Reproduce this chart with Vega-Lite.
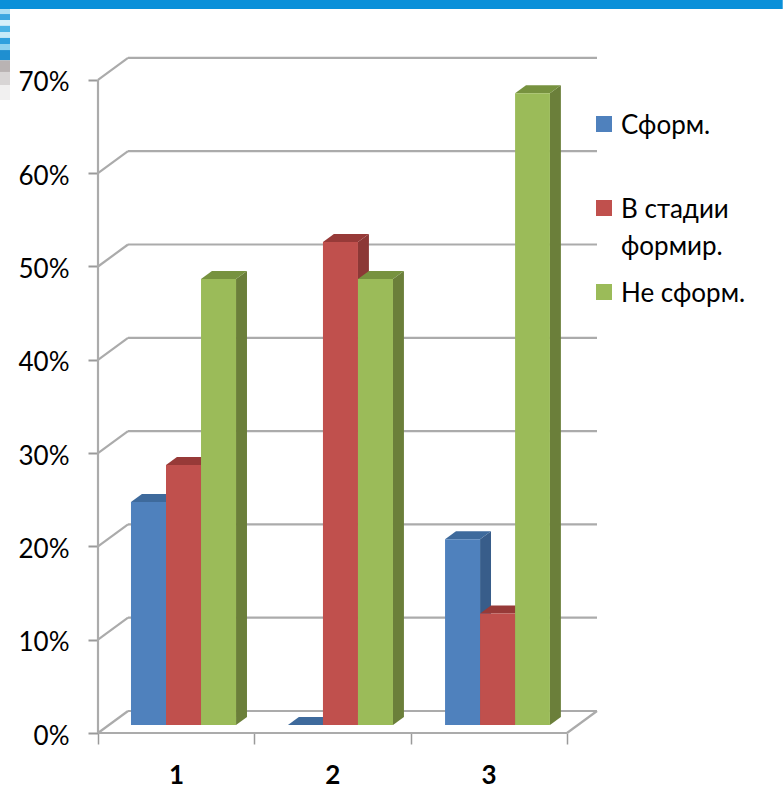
{"$schema":"https://vega.github.io/schema/vega-lite/v6.json","width":499,"height":674,"autosize":"none","padding":{"left":98,"top":59,"right":186,"bottom":55},"background":"white","config":{"view":{"stroke":null},"font":"Lato"},
"datasets":{
"backdrop":[{"part":"band","x":-0.627,"x2":4.38,"y":77.6,"y2":78.56},
{"part":"s1","x":-0.627,"x2":-0.563,"y":77.06,"y2":77.6},{"part":"s2","x":-0.627,"x2":-0.563,"y":76.4,"y2":77.06},{"part":"s3","x":-0.627,"x2":-0.563,"y":75.8,"y2":76.4},{"part":"s4","x":-0.627,"x2":-0.563,"y":75.1,"y2":75.8},{"part":"s5","x":-0.627,"x2":-0.563,"y":74.5,"y2":75.1},{"part":"s6","x":-0.627,"x2":-0.563,"y":73.85,"y2":74.5},{"part":"s7","x":-0.627,"x2":-0.563,"y":73.2,"y2":73.85},{"part":"s8","x":-0.627,"x2":-0.563,"y":72.1,"y2":73.2},{"part":"f1","x":-0.627,"x2":-0.563,"y":70.85,"y2":72.1},{"part":"f2","x":-0.627,"x2":-0.563,"y":69.45,"y2":70.85},{"part":"f3","x":-0.627,"x2":-0.563,"y":67.85,"y2":69.45}],
"grid":[
{"x":0.192,"x2":3.192,"y":2.357,"y2":2.357},{"x":0.192,"x2":3.192,"y":12.357,"y2":12.357},{"x":0.192,"x2":3.192,"y":22.357,"y2":22.357},{"x":0.192,"x2":3.192,"y":32.357,"y2":32.357},{"x":0.192,"x2":3.192,"y":42.357,"y2":42.357},{"x":0.192,"x2":3.192,"y":52.357,"y2":52.357},{"x":0.192,"x2":3.192,"y":62.357,"y2":62.357},{"x":0.192,"x2":3.192,"y":72.357,"y2":72.357},
{"x":0,"x2":0.192,"y":0,"y2":2.357},{"x":0,"x2":0.192,"y":10,"y2":12.357},{"x":0,"x2":0.192,"y":20,"y2":22.357},{"x":0,"x2":0.192,"y":30,"y2":32.357},{"x":0,"x2":0.192,"y":40,"y2":42.357},{"x":0,"x2":0.192,"y":50,"y2":52.357},{"x":0,"x2":0.192,"y":60,"y2":62.357},{"x":0,"x2":0.192,"y":70,"y2":72.357},
{"x":0,"x2":0,"y":0,"y2":70},{"x":0,"x2":3,"y":0,"y2":0},{"x":3,"x2":3.192,"y":0,"y2":2.357}],
"sideFaces":[
{"cat":"1","series":"Сформ.","x":0.435,"y":24,"y2":0},{"cat":"1","series":"Сформ.","x":0.505,"y":24.861,"y2":0.861},
{"cat":"1","series":"В стадии формир.","x":0.659,"y":28,"y2":0},{"cat":"1","series":"В стадии формир.","x":0.729,"y":28.861,"y2":0.861},
{"cat":"1","series":"Не сформ.","x":0.883,"y":48,"y2":0},{"cat":"1","series":"Не сформ.","x":0.953,"y":48.861,"y2":0.861},
{"cat":"2","series":"В стадии формир.","x":1.663,"y":52,"y2":0},{"cat":"2","series":"В стадии формир.","x":1.733,"y":52.861,"y2":0.861},
{"cat":"2","series":"Не сформ.","x":1.887,"y":48,"y2":0},{"cat":"2","series":"Не сформ.","x":1.957,"y":48.861,"y2":0.861},
{"cat":"3","series":"Сформ.","x":2.444,"y":20,"y2":0},{"cat":"3","series":"Сформ.","x":2.514,"y":20.861,"y2":0.861},
{"cat":"3","series":"В стадии формир.","x":2.668,"y":12,"y2":0},{"cat":"3","series":"В стадии формир.","x":2.738,"y":12.861,"y2":0.861},
{"cat":"3","series":"Не сформ.","x":2.891,"y":68,"y2":0},{"cat":"3","series":"Не сформ.","x":2.961,"y":68.861,"y2":0.861}],
"topFaces":[
{"cat":"1","series":"Сформ.","y":24,"x":0.211,"x2":0.435},{"cat":"1","series":"Сформ.","y":24.861,"x":0.281,"x2":0.505},
{"cat":"1","series":"В стадии формир.","y":28,"x":0.435,"x2":0.659},{"cat":"1","series":"В стадии формир.","y":28.861,"x":0.505,"x2":0.729},
{"cat":"1","series":"Не сформ.","y":48,"x":0.659,"x2":0.883},{"cat":"1","series":"Не сформ.","y":48.861,"x":0.729,"x2":0.953},
{"cat":"2","series":"Сформ.","y":0,"x":1.215,"x2":1.439},{"cat":"2","series":"Сформ.","y":0.861,"x":1.285,"x2":1.509},
{"cat":"2","series":"В стадии формир.","y":52,"x":1.439,"x2":1.663},{"cat":"2","series":"В стадии формир.","y":52.861,"x":1.509,"x2":1.733},
{"cat":"2","series":"Не сформ.","y":48,"x":1.663,"x2":1.887},{"cat":"2","series":"Не сформ.","y":48.861,"x":1.733,"x2":1.957},
{"cat":"3","series":"Сформ.","y":20,"x":2.22,"x2":2.444},{"cat":"3","series":"Сформ.","y":20.861,"x":2.29,"x2":2.514},
{"cat":"3","series":"В стадии формир.","y":12,"x":2.444,"x2":2.668},{"cat":"3","series":"В стадии формир.","y":12.861,"x":2.514,"x2":2.738},
{"cat":"3","series":"Не сформ.","y":68,"x":2.668,"x2":2.891},{"cat":"3","series":"Не сформ.","y":68.861,"x":2.738,"x2":2.961}],
"bars":[
{"cat":"1","series":"Сформ.","x":0.211,"x2":0.435,"value":24,"base":0},
{"cat":"1","series":"В стадии формир.","x":0.435,"x2":0.659,"value":28,"base":0},
{"cat":"1","series":"Не сформ.","x":0.659,"x2":0.883,"value":48,"base":0},
{"cat":"2","series":"Сформ.","x":1.215,"x2":1.439,"value":0,"base":0},
{"cat":"2","series":"В стадии формир.","x":1.439,"x2":1.663,"value":52,"base":0},
{"cat":"2","series":"Не сформ.","x":1.663,"x2":1.887,"value":48,"base":0},
{"cat":"3","series":"Сформ.","x":2.22,"x2":2.444,"value":20,"base":0},
{"cat":"3","series":"В стадии формир.","x":2.444,"x2":2.668,"value":12,"base":0},
{"cat":"3","series":"Не сформ.","x":2.668,"x2":2.891,"value":68,"base":0}]
},
"resolve":{"scale":{"y":"independent","color":"independent"}},
"layer":[
{"data":{"name":"backdrop"},"mark":{"type":"rect"},"encoding":{
"x":{"field":"x","type":"quantitative","scale":{"domain":[0,3.192],"nice":false,"zero":false},"axis":{"values":[0,1,2,3],"title":null,"domain":false,"grid":false,"tickColor":"#9a9a9a","tickWidth":1.5,"tickSize":11,"labelExpr":"datum.value==3?'':datum.value+1","labelOffset":78,"labelBound":false,"labelFlush":false,"labelOverlap":false,"labelFont":"Lato","labelFontSize":26,"labelFontWeight":"bold","labelColor":"#000000","labelPadding":18}},"x2":{"field":"x2"},
"y":{"field":"y","type":"quantitative","scale":{"domain":[0,72.24],"nice":false},"axis":null},"y2":{"field":"y2"},
"color":{"field":"part","type":"nominal","legend":null,"scale":{"domain":["band","s1","s2","s3","s4","s5","s6","s7","s8","f1","f2","f3"],"range":["#0a90d9","#aee0f4","#3ba7e0","#d5f0fa","#49b3e6","#c6eaf8","#2fa0de","#8fd2f0","#1f8fd0","#b9b3b3","#d8d5d5","#f1f0f0"]}}}},
{"data":{"name":"grid"},"mark":{"type":"rule","color":"#ababab","strokeWidth":2.2},"encoding":{
"x":{"field":"x","type":"quantitative","scale":{"domain":[0,3.192],"nice":false,"zero":false}},"x2":{"field":"x2"},
"y":{"field":"y","type":"quantitative","scale":{"domain":[0,72.24],"nice":false},"axis":{"values":[0,10,20,30,40,50,60,70],"title":null,"domain":false,"grid":false,"tickColor":"#9a9a9a","tickWidth":2,"tickSize":10,"labelExpr":"datum.value+'%'","labelOffset":3,"labelBound":false,"labelFlush":false,"labelOverlap":false,"labelFont":"Lato","labelFontSize":26,"labelColor":"#000000","labelPadding":19}},"y2":{"field":"y2"}}},
{"data":{"name":"sideFaces"},"mark":{"type":"area"},"encoding":{
"x":{"field":"x","type":"quantitative","scale":{"domain":[0,3.192],"nice":false,"zero":false}},
"y":{"field":"y","type":"quantitative","scale":{"domain":[-0.861,71.69],"nice":false},"axis":null},"y2":{"field":"y2"},
"detail":{"field":"cat"},
"color":{"field":"series","type":"nominal","legend":null,"scale":{"domain":["Сформ.","В стадии формир.","Не сформ."],"range":["#385d8a","#8c3836","#6b7f3a"]}}}},
{"data":{"name":"topFaces"},"mark":{"type":"area","orient":"horizontal"},"encoding":{
"y":{"field":"y","type":"quantitative","scale":{"domain":[-0.861,71.69],"nice":false},"axis":null},
"x":{"field":"x","type":"quantitative","scale":{"domain":[0,3.192],"nice":false,"zero":false}},"x2":{"field":"x2"},
"detail":{"field":"cat"},
"color":{"field":"series","type":"nominal","legend":null,"scale":{"domain":["Сформ.","В стадии формир.","Не сформ."],"range":["#3e6a9c","#973a38","#77923f"]}}}},
{"data":{"name":"bars"},"mark":{"type":"bar"},"encoding":{
"x":{"field":"x","type":"quantitative","scale":{"domain":[0,3.192],"nice":false,"zero":false}},"x2":{"field":"x2"},
"y":{"field":"value","type":"quantitative","scale":{"domain":[-0.861,71.69],"nice":false},"axis":null},"y2":{"field":"base"},
"color":{"field":"series","type":"nominal","scale":{"domain":["Сформ.","В стадии формир.","Не сформ."],"range":["#4f81bd","#c0504d","#9bbb59"]},
"legend":{"title":null,"orient":"none","legendX":493,"legendY":37,"symbolType":"square","symbolSize":256,"symbolStrokeWidth":0,"symbolOpacity":1,"labelFont":"Lato","labelFontSize":26,"labelColor":"#000000","labelLimit":200,"labelOffset":4,"labelBaseline":"top","clipHeight":56,"rowPadding":4,"gridAlign":"all","labelExpr":"datum.label=='В стадии формир.'?['В стадии','формир.']:datum.label","encoding":{"labels":{"dy":{"value":-11},"lineHeight":{"value":37}}}}}}}
]}
